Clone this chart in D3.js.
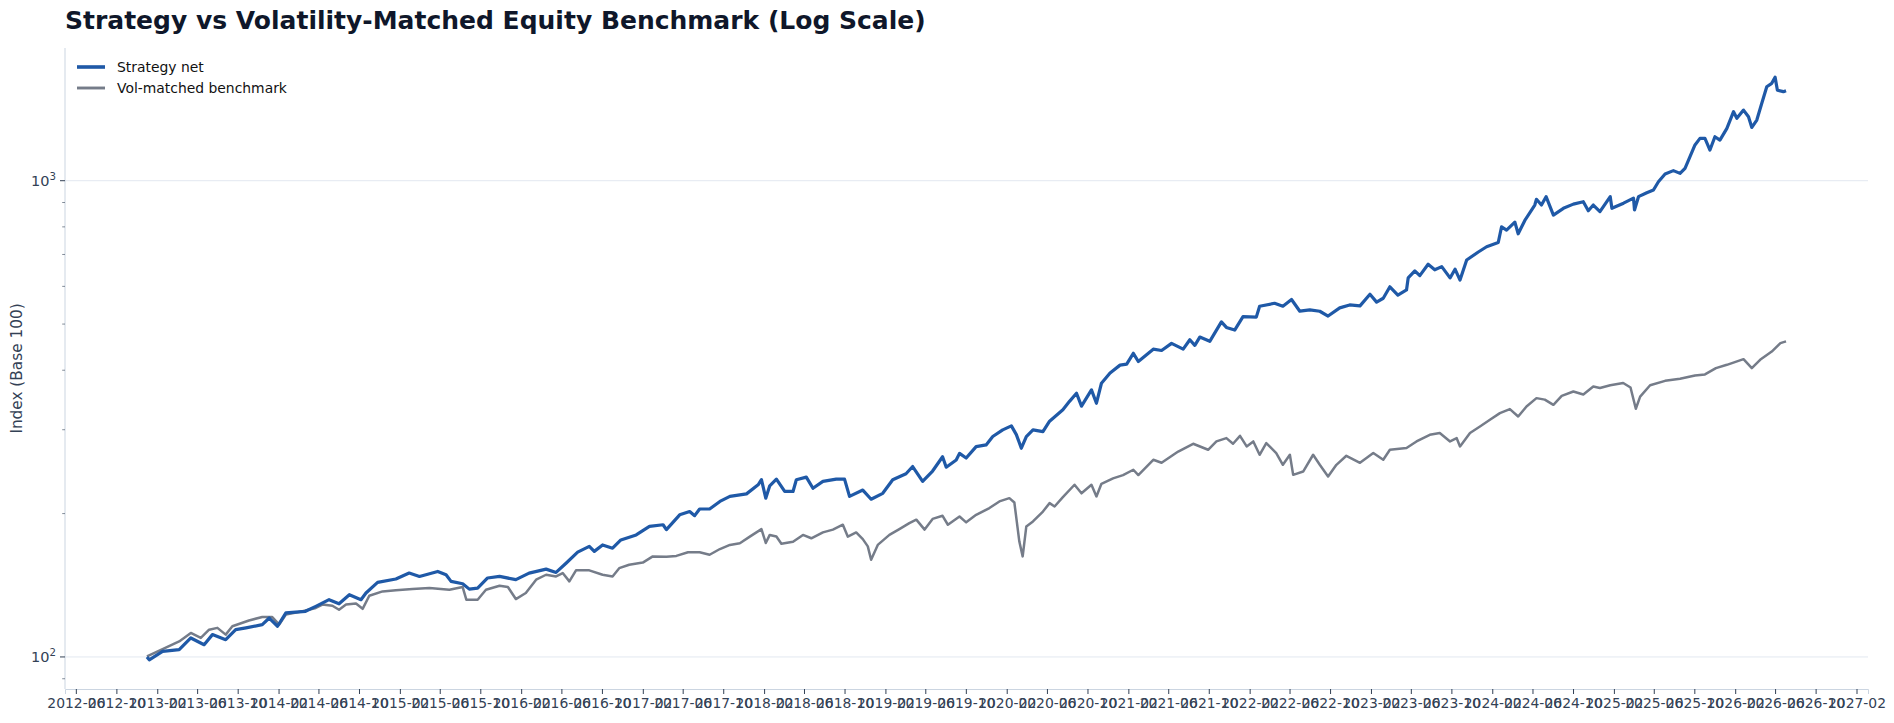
<!DOCTYPE html>
<html>
<head>
<meta charset="utf-8">
<script src="https://cdn.jsdelivr.net/npm/d3@7/dist/d3.min.js"></script>
<style>
  body { margin: 0; background: #fff; }
  svg { font-family: "DejaVu Sans", sans-serif; }
</style>
</head>
<body>
<svg id="chart"></svg>
<script>
const title = 'Strategy vs Volatility-Matched Equity Benchmark (Log Scale)';
const yLabel = 'Index (Base 100)';
const seriesNames = ['Strategy net', 'Vol-matched benchmark'];

// values, [date, index level]
const strategyNet = [
  ['2013-01-01', 100.0], ['2013-01-08', 98.6], ['2013-02-17', 102.7], ['2013-04-08', 103.6],
  ['2013-05-13', 109.6], ['2013-06-22', 106.1], ['2013-07-17', 111.4], ['2013-08-26', 108.7],
  ['2013-09-25', 114.1], ['2013-10-26', 115.1], ['2013-12-14', 116.9], ['2014-01-04', 120.7],
  ['2014-01-29', 116.0], ['2014-02-23', 123.7], ['2014-04-23', 124.7], ['2014-05-24', 127.7],
  ['2014-07-03', 131.9], ['2014-08-02', 129.3], ['2014-09-02', 135.1], ['2014-10-07', 131.9],
  ['2014-10-22', 136.2], ['2014-11-26', 143.4], ['2015-01-20', 145.8], ['2015-03-01', 150.0],
  ['2015-04-01', 147.6], ['2015-05-26', 151.2], ['2015-06-20', 148.8], ['2015-07-05', 144.1],
  ['2015-08-09', 142.5], ['2015-08-29', 138.8], ['2015-09-23', 139.5], ['2015-10-23', 146.5],
  ['2015-11-28', 147.6], ['2016-01-16', 145.3], ['2016-02-25', 150.0], ['2016-04-16', 152.9],
  ['2016-05-16', 150.5], ['2016-06-15', 157.3], ['2016-07-20', 166.0], ['2016-08-24', 170.7],
  ['2016-09-08', 166.6], ['2016-10-03', 171.9], ['2016-11-02', 169.2], ['2016-11-27', 176.1],
  ['2017-01-12', 180.4], ['2017-02-21', 188.0], ['2017-04-03', 189.5], ['2017-04-13', 185.1],
  ['2017-05-23', 198.8], ['2017-06-22', 202.0], ['2017-07-07', 198.0], ['2017-07-22', 204.5],
  ['2017-08-21', 204.5], ['2017-09-21', 212.1], ['2017-10-21', 217.3], ['2017-12-10', 220.0],
  ['2018-01-14', 229.9], ['2018-01-24', 235.6], ['2018-02-06', 215.5], ['2018-02-18', 228.8],
  ['2018-03-10', 236.3], ['2018-04-04', 222.6], ['2018-04-29', 222.6], ['2018-05-09', 235.6],
  ['2018-06-08', 238.6], ['2018-06-28', 226.0], ['2018-07-28', 233.7], ['2018-09-06', 236.3],
  ['2018-10-01', 236.3], ['2018-10-16', 217.3], ['2018-11-25', 224.1], ['2018-12-20', 214.4],
  ['2019-01-24', 220.6], ['2019-02-23', 235.6], ['2019-04-04', 242.5], ['2019-04-24', 251.1],
  ['2019-05-24', 233.7], ['2019-06-23', 245.7], ['2019-07-23', 263.3], ['2019-08-03', 250.3],
  ['2019-09-02', 259.2], ['2019-09-12', 267.6], ['2019-10-02', 261.6], ['2019-11-01', 276.5],
  ['2019-12-01', 278.8], ['2019-12-21', 290.3], ['2020-01-20', 299.8], ['2020-02-15', 305.6],
  ['2020-03-01', 293.0], ['2020-03-16', 274.3], ['2020-03-31', 290.3], ['2020-04-20', 299.8],
  ['2020-05-20', 297.2], ['2020-06-09', 312.6], ['2020-07-19', 330.3], ['2020-08-08', 344.1],
  ['2020-08-29', 357.9], ['2020-09-13', 336.2], ['2020-10-13', 363.7], ['2020-10-28', 341.0],
  ['2020-11-12', 375.6], ['2020-12-08', 394.8], ['2021-01-07', 410.0], ['2021-01-27', 412.0],
  ['2021-02-16', 434.1], ['2021-03-03', 417.3], ['2021-04-17', 442.8], ['2021-05-12', 440.0],
  ['2021-06-11', 455.5], ['2021-07-16', 443.0], ['2021-08-05', 463.5], ['2021-08-20', 451.0],
  ['2021-09-04', 469.5], ['2021-10-04', 460.0], ['2021-11-08', 505.3], ['2021-11-23', 492.0],
  ['2021-12-18', 485.7], ['2022-01-12', 518.4], ['2022-02-21', 517.0], ['2022-03-03', 545.0],
  ['2022-04-17', 552.9], ['2022-05-12', 545.0], ['2022-06-07', 563.1], ['2022-07-02', 532.1],
  ['2022-08-01', 535.5], ['2022-08-31', 532.0], ['2022-09-25', 519.8], ['2022-10-30', 540.8],
  ['2022-11-29', 548.5], ['2022-12-30', 546.0], ['2023-01-29', 577.5], ['2023-02-18', 556.0],
  ['2023-03-10', 566.5], ['2023-03-30', 598.8], ['2023-04-23', 575.4], ['2023-05-19', 589.6],
  ['2023-05-24', 625.0], ['2023-06-13', 646.7], ['2023-06-28', 632.0], ['2023-07-23', 667.6],
  ['2023-08-12', 650.0], ['2023-09-02', 660.1], ['2023-09-27', 625.0], ['2023-10-12', 652.0],
  ['2023-10-27', 618.5], ['2023-11-16', 681.5], ['2023-12-21', 708.5], ['2024-01-15', 726.7],
  ['2024-02-19', 741.6], ['2024-02-29', 800.4], ['2024-03-15', 787.6], ['2024-04-09', 818.7],
  ['2024-04-19', 773.8], ['2024-05-09', 825.2], ['2024-06-08', 889.0], ['2024-06-13', 914.0],
  ['2024-06-28', 889.0], ['2024-07-12', 925.7], ['2024-08-03', 847.0], ['2024-09-02', 875.0],
  ['2024-10-02', 893.0], ['2024-11-01', 903.5], ['2024-11-16', 865.0], ['2024-12-01', 889.0],
  ['2024-12-21', 861.0], ['2025-01-21', 925.7], ['2025-01-26', 875.0], ['2025-03-02', 897.0],
  ['2025-04-01', 919.0], ['2025-04-04', 868.0], ['2025-04-16', 925.7], ['2025-05-11', 943.7],
  ['2025-05-31', 956.0], ['2025-06-15', 995.0], ['2025-07-05', 1033], ['2025-07-30', 1050],
  ['2025-08-19', 1036], ['2025-09-03', 1062], ['2025-09-18', 1123], ['2025-10-03', 1189],
  ['2025-10-18', 1227], ['2025-11-02', 1227], ['2025-11-17', 1160], ['2025-12-02', 1237],
  ['2025-12-17', 1217], ['2026-01-07', 1288], ['2026-01-27', 1396], ['2026-02-06', 1352],
  ['2026-02-26', 1407], ['2026-03-13', 1362], ['2026-03-23', 1294], ['2026-04-07', 1341],
  ['2026-04-22', 1454], ['2026-05-07', 1575], ['2026-05-22', 1601], ['2026-06-01', 1650],
  ['2026-06-08', 1549], ['2026-06-26', 1538], ['2026-07-04', 1545]
];

const volMatchedBenchmark = [
  ['2013-01-01', 100.3], ['2013-02-17', 103.9], ['2013-04-08', 107.8], ['2013-05-13', 112.3],
  ['2013-06-12', 109.6], ['2013-07-07', 114.1], ['2013-08-01', 115.1], ['2013-08-26', 111.4],
  ['2013-09-15', 116.0], ['2013-11-04', 119.3], ['2013-12-14', 121.3], ['2014-01-13', 121.3],
  ['2014-02-03', 116.9], ['2014-02-23', 122.7], ['2014-04-14', 124.7], ['2014-05-24', 126.7],
  ['2014-06-13', 128.8], ['2014-07-13', 128.1], ['2014-08-02', 125.6], ['2014-08-23', 128.8],
  ['2014-09-22', 129.5], ['2014-10-12', 126.2], ['2014-11-01', 134.4], ['2014-12-11', 137.3],
  ['2015-01-20', 138.0], ['2015-03-11', 138.9], ['2015-05-01', 139.5], ['2015-06-30', 138.4],
  ['2015-08-09', 140.2], ['2015-08-20', 131.9], ['2015-09-23', 131.9], ['2015-10-18', 138.4],
  ['2015-11-28', 141.1], ['2015-12-23', 140.2], ['2016-01-16', 132.3], ['2016-02-15', 136.2],
  ['2016-03-17', 145.3], ['2016-04-16', 148.8], ['2016-05-16', 147.6], ['2016-06-05', 150.0],
  ['2016-06-25', 144.1], ['2016-07-15', 152.0], ['2016-08-24', 152.0], ['2016-10-03', 148.8],
  ['2016-11-02', 147.6], ['2016-11-22', 153.6], ['2016-12-22', 156.2], ['2017-02-01', 157.8],
  ['2017-03-03', 162.6], ['2017-04-13', 162.3], ['2017-05-13', 163.0], ['2017-06-17', 165.9],
  ['2017-07-22', 165.9], ['2017-08-21', 163.9], ['2017-09-21', 168.5], ['2017-10-21', 171.9],
  ['2017-11-20', 173.3], ['2017-12-20', 178.9], ['2018-01-24', 185.5], ['2018-02-06', 173.5],
  ['2018-02-18', 180.4], ['2018-03-10', 179.0], ['2018-03-25', 172.9], ['2018-04-29', 174.5],
  ['2018-05-29', 180.4], ['2018-06-23', 177.5], ['2018-07-28', 182.6], ['2018-08-27', 185.1],
  ['2018-09-26', 189.5], ['2018-10-11', 178.9], ['2018-11-05', 182.6], ['2018-11-25', 176.8],
  ['2018-12-10', 170.7], ['2018-12-20', 160.0], ['2019-01-09', 171.9], ['2019-02-13', 180.4],
  ['2019-03-15', 185.5], ['2019-04-14', 191.0], ['2019-05-05', 194.2], ['2019-05-30', 185.1],
  ['2019-06-23', 194.9], ['2019-07-23', 197.9], ['2019-08-08', 189.5], ['2019-09-12', 197.2],
  ['2019-10-02', 191.7], ['2019-11-01', 198.8], ['2019-12-11', 205.4], ['2020-01-10', 212.1],
  ['2020-02-09', 215.5], ['2020-02-24', 211.0], ['2020-03-10', 174.7], ['2020-03-20', 162.6],
  ['2020-03-31', 188.0], ['2020-04-20', 192.6], ['2020-05-20', 202.0], ['2020-06-09', 210.4],
  ['2020-06-24', 207.0], ['2020-07-19', 216.5], ['2020-08-23', 229.9], ['2020-09-13', 220.6],
  ['2020-10-13', 229.9], ['2020-10-28', 217.3], ['2020-11-12', 231.0], ['2020-12-17', 237.1],
  ['2021-01-16', 240.9], ['2021-02-16', 247.2], ['2021-03-03', 241.0], ['2021-04-17', 259.4],
  ['2021-05-12', 255.7], ['2021-07-01', 270.0], ['2021-08-15', 280.3], ['2021-09-29', 272.3],
  ['2021-10-24', 283.5], ['2021-11-23', 288.1], ['2021-12-13', 280.3], ['2022-01-03', 291.3],
  ['2022-01-23', 276.7], ['2022-02-12', 283.5], ['2022-03-03', 265.8], ['2022-03-23', 281.2],
  ['2022-04-22', 268.0], ['2022-05-12', 253.2], ['2022-06-02', 265.8], ['2022-06-12', 241.2],
  ['2022-07-12', 245.1], ['2022-08-11', 265.8], ['2022-08-31', 253.2], ['2022-09-25', 239.3],
  ['2022-10-20', 253.2], ['2022-11-19', 264.5], ['2022-12-30', 255.7], ['2023-02-08', 268.0],
  ['2023-03-10', 259.4], ['2023-03-30', 272.3], ['2023-05-19', 274.6], ['2023-06-18', 283.5],
  ['2023-07-28', 292.7], ['2023-08-27', 295.3], ['2023-09-27', 283.5], ['2023-10-17', 288.0],
  ['2023-10-27', 276.7], ['2023-11-26', 295.3], ['2023-12-26', 304.7], ['2024-01-25', 314.8],
  ['2024-02-24', 325.1], ['2024-03-25', 331.5], ['2024-04-19', 319.8], ['2024-05-14', 335.7],
  ['2024-06-13', 349.5], ['2024-07-08', 347.0], ['2024-08-03', 338.4], ['2024-08-28', 353.4],
  ['2024-10-02', 360.9], ['2024-11-01', 355.7], ['2024-12-01', 369.7], ['2024-12-21', 367.0],
  ['2025-01-21', 372.0], ['2025-03-01', 376.0], ['2025-03-23', 368.0], ['2025-04-08', 332.0],
  ['2025-04-21', 352.0], ['2025-05-21', 372.0], ['2025-07-05', 380.0], ['2025-08-19', 384.0],
  ['2025-10-03', 390.0], ['2025-11-02', 392.0], ['2025-12-05', 404.0], ['2026-01-07', 410.6],
  ['2026-02-26', 422.0], ['2026-03-23', 404.0], ['2026-04-17', 420.6], ['2026-05-22', 437.7],
  ['2026-06-17', 456.0], ['2026-07-04', 460.0]
];

const seriesColors = ['#1f59a7', '#757c89'];
const seriesWidths = [3.2, 2.5];

const width = 1894, height = 723;
const margin = { top: 48, right: 26, bottom: 34, left: 65 };
const parse = d3.timeParse('%Y-%m-%d');

const series = [strategyNet, volMatchedBenchmark].map(s => s.map(([d, v]) => ({ x: parse(d), y: v })));
const all = series.flat();

const svg = d3.select('#chart').attr('width', width).attr('height', height);

// x: data extent plus 5% margins, like the source plot
const xExt = d3.extent(all, d => d.x);
const xPad = (xExt[1] - xExt[0]) * 0.05;
const xScale = d3.scaleTime()
  .domain([new Date(+xExt[0] - xPad), new Date(+xExt[1] + xPad)])
  .range([margin.left, width - margin.right]);

// y: log scale, padded 5% in log space
const yExt = d3.extent(all, d => d.y).map(Math.log10);
const yPad = (yExt[1] - yExt[0]) * 0.05;
const yScale = d3.scaleLog()
  .domain([Math.pow(10, yExt[0] - yPad), Math.pow(10, yExt[1] + yPad)])
  .range([height - margin.bottom, margin.top]);

const tickColor = '#334155';
const spineColor = '#cbd5e1';

// gridlines at the decades
const majorY = [100, 1000];
svg.append('g').selectAll('line').data(majorY).enter().append('line')
  .attr('x1', margin.left).attr('x2', width - margin.right)
  .attr('y1', d => yScale(d)).attr('y2', d => yScale(d))
  .attr('stroke', '#e2e8f0').attr('stroke-width', 1);

// x axis: every 4 months from Feb
const xTicks = d3.timeMonth.range(xScale.domain()[0], xScale.domain()[1]).filter(d => d.getMonth() % 4 === 1);
const xAxis = d3.axisBottom(xScale).tickValues(xTicks).tickFormat(d3.timeFormat('%Y-%m'))
  .tickSize(5).tickPadding(4);
const gx = svg.append('g')
  .attr('transform', `translate(0, ${height - margin.bottom})`)
  .call(xAxis);
gx.select('.domain').attr('stroke', spineColor);
gx.selectAll('.tick line').attr('stroke', tickColor);
gx.selectAll('.tick text').attr('fill', tickColor).attr('font-size', 13.9)
  .attr('font-family', '"DejaVu Sans", sans-serif');

// y axis with 10^n labels and minor ticks
const minorY = [];
for (let p = 1; p <= 3; p++) for (let m = 1; m < 10; m++) {
  const v = m * Math.pow(10, p);
  if (m !== 1 && v >= yScale.domain()[0] && v <= yScale.domain()[1]) minorY.push(v);
}
const gy = svg.append('g').attr('transform', `translate(${margin.left}, 0)`);
gy.append('line').attr('y1', margin.top).attr('y2', height - margin.bottom)
  .attr('stroke', spineColor);
gy.selectAll('.minor').data(minorY).enter().append('line')
  .attr('x1', -2.8).attr('x2', 0).attr('y1', d => yScale(d)).attr('y2', d => yScale(d))
  .attr('stroke', tickColor).attr('stroke-width', 0.6);
gy.selectAll('.major').data(majorY).enter().append('line')
  .attr('x1', -5).attr('x2', 0).attr('y1', d => yScale(d)).attr('y2', d => yScale(d))
  .attr('stroke', tickColor);
const yLab = gy.selectAll('.ylab').data(majorY).enter().append('text')
  .attr('x', -9).attr('y', d => yScale(d) + 5)
  .attr('text-anchor', 'end').attr('fill', tickColor).attr('font-size', 14.5);
yLab.append('tspan').text('10');
yLab.append('tspan').attr('font-size', 10.2).attr('dy', -6).text(d => Math.round(Math.log10(d)));

svg.append('text')
  .attr('transform', `translate(17, ${(margin.top + height - margin.bottom) / 2}) rotate(-90)`)
  .attr('text-anchor', 'middle').attr('dominant-baseline', 'central')
  .attr('fill', tickColor).attr('font-size', 15.3).text(yLabel);

// series lines, benchmark underneath
const line = d3.line().x(d => xScale(d.x)).y(d => yScale(d.y));
[1, 0].forEach(i => {
  svg.append('path').datum(series[i])
    .attr('fill', 'none').attr('stroke', seriesColors[i]).attr('stroke-width', seriesWidths[i])
    .attr('stroke-linejoin', 'round').attr('d', line);
});

// legend
const legend = svg.append('g').attr('transform', `translate(${margin.left + 12}, 67)`);
seriesNames.forEach((name, i) => {
  const g = legend.append('g').attr('transform', `translate(0, ${i * 21})`);
  g.append('line').attr('x1', 0).attr('x2', 28).attr('stroke', seriesColors[i])
    .attr('stroke-width', seriesWidths[i] + 0.4);
  g.append('text').attr('x', 40).attr('y', 5).attr('font-size', 13.9).attr('fill', '#111').text(name);
});

svg.append('text').attr('x', margin.left).attr('y', 29)
  .attr('font-size', 25).attr('font-weight', 'bold').attr('fill', '#0f172a').text(title);
</script>
</body>
</html>
